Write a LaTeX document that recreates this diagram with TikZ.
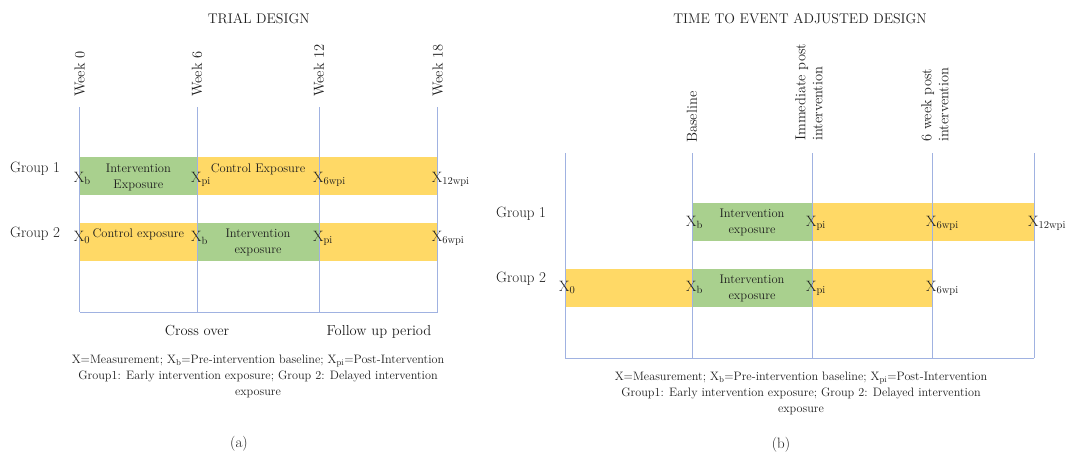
\documentclass[tikz,border=0pt]{standalone}
\usetikzlibrary{positioning}
\definecolor{GridBlue}{RGB}{160,178,225}
\definecolor{ExpGreen}{RGB}{169,208,142}
\definecolor{CtrlYellow}{RGB}{255,217,102}
\definecolor{TextGray}{RGB}{30,30,30}
\begin{document}
\begin{tikzpicture}[x=1pt, y=-1pt,
  lbl/.style={font=\fontsize{14.5}{17}\selectfont, text=TextGray, inner sep=0pt},
  ttl/.style={lbl, font=\fontsize{14}{17}\selectfont},
  wk/.style={lbl, rotate=90, anchor=west, align=left},
  grp/.style={lbl, anchor=base west, font=\fontsize{15}{17}\selectfont},
  meas/.style={lbl, anchor=base west, xshift=-6pt, font=\fontsize{15}{17}\selectfont},
  bartxt/.style={font=\fontsize{12.5}{16}\selectfont, text=TextGray, inner sep=0pt, align=center, anchor=north},
  capnote/.style={font=\fontsize{12.2}{16}\selectfont, text=TextGray, inner sep=0pt, align=center, anchor=north},
  panel/.style={lbl, font=\fontsize{15}{17}\selectfont},
  gridline/.style={draw=GridBlue, line width=0.9pt},
  ctrl/.style={fill=CtrlYellow},
  intv/.style={fill=ExpGreen}]
\useasboundingbox (0,0) rectangle (1066,458);
% (a) trial design
\fill[intv] (79.7,157) rectangle (197,195);
\fill[ctrl] (197,157) rectangle (437.7,195);
\fill[ctrl] (79.7,223) rectangle (197,260.5);
\fill[intv] (197,223) rectangle (319,260.5);
\fill[ctrl] (319,223) rectangle (437.7,260.5);
\foreach \x in {79.7,197,319,437.7} \draw[gridline] (\x,107) -- (\x,312);
\draw[gridline] (79.7,312) -- (437.7,312);
\node[ttl] (ttlA) at (258.7,19) {TRIAL DESIGN};
\node[wk] (wk0) at (79.7,97) {Week 0};
\node[wk] (wk6) at (197,97) {Week 6};
\node[wk] (wk12) at (319,97) {Week 12};
\node[wk] (wk18) at (437.7,97) {Week 18};
\node[grp] (grpA1) at (10,172) {Group 1};
\node[grp] (grpA2) at (10,237) {Group 2};
\node[bartxt] (intA1) at (138.4,163.5) {Intervention\\Exposure};
\node[bartxt] (ctlA1) at (258,163.5) {Control Exposure};
\node[bartxt] (ctlA2) at (138.4,228.5) {Control exposure};
\node[bartxt] (intA2) at (258,228.5) {Intervention\\exposure};
\node[meas] (xA1b) at (79.7,182) {X\textsubscript{b}};
\node[meas] (xA1pi) at (197,182) {X\textsubscript{pi}};
\node[meas] (xA16) at (319,182) {X\textsubscript{6wpi}};
\node[meas] (xA112) at (437.7,182) {X\textsubscript{12wpi}};
\node[meas] (xA20) at (79.7,241.7) {X\textsubscript{0}};
\node[meas] (xA2b) at (197,241.7) {X\textsubscript{b}};
\node[meas] (xA2pi) at (319,241.7) {X\textsubscript{pi}};
\node[meas] (xA26) at (437.7,241.7) {X\textsubscript{6wpi}};
\node[lbl, anchor=base] (cross) at (197,335) {Cross over};
\node[lbl, anchor=base] (follow) at (379,335) {Follow up period};
\node[capnote] (capA) at (258,355) {X=Measurement; X\textsubscript{b}=Pre-intervention baseline; X\textsubscript{pi}=Post-Intervention\\Group1: Early intervention exposure; Group 2: Delayed intervention\\exposure};
\node[panel] (subA) at (239,444) {(a)};
% (b) time to event adjusted design
\fill[intv] (692,203) rectangle (812,241);
\fill[ctrl] (812,203) rectangle (1034,241);
\fill[ctrl] (565,269) rectangle (692,307);
\fill[intv] (692,269) rectangle (812,307);
\fill[ctrl] (812,269) rectangle (932,307);
\foreach \x in {565,692,812,932,1034} \draw[gridline] (\x,153) -- (\x,358);
\draw[gridline] (565,358) -- (1034,358);
\node[ttl] (ttlB) at (800,19) {TIME TO EVENT ADJUSTED DESIGN};
\node[wk] (basel) at (692,143) {Baseline};
\node[wk] (post) at (809,141) {Immediate post\\intervention};
\node[wk] (post6) at (935,142) {6 week post\\intervention};
\node[grp] (grpB1) at (496,217) {Group 1};
\node[grp] (grpB2) at (496,282) {Group 2};
\node[bartxt] (intB1) at (752,208.5) {Intervention\\exposure};
\node[bartxt] (intB2) at (752,274.5) {Intervention\\exposure};
\node[meas] (xB1b) at (692,226) {X\textsubscript{b}};
\node[meas] (xB1pi) at (812,226) {X\textsubscript{pi}};
\node[meas] (xB16) at (932,226) {X\textsubscript{6wpi}};
\node[meas] (xB112) at (1034,226) {X\textsubscript{12wpi}};
\node[meas] (xB20) at (565,291) {X\textsubscript{0}};
\node[meas] (xB2b) at (692,291) {X\textsubscript{b}};
\node[meas] (xB2pi) at (812,291) {X\textsubscript{pi}};
\node[meas] (xB26) at (932,291) {X\textsubscript{6wpi}};
\node[capnote] (capB) at (801,372) {X=Measurement; X\textsubscript{b}=Pre-intervention baseline; X\textsubscript{pi}=Post-Intervention\\Group1: Early intervention exposure; Group 2: Delayed intervention\\exposure};
\node[panel] (subB) at (781,445) {(b)};
\end{tikzpicture}
\end{document}
